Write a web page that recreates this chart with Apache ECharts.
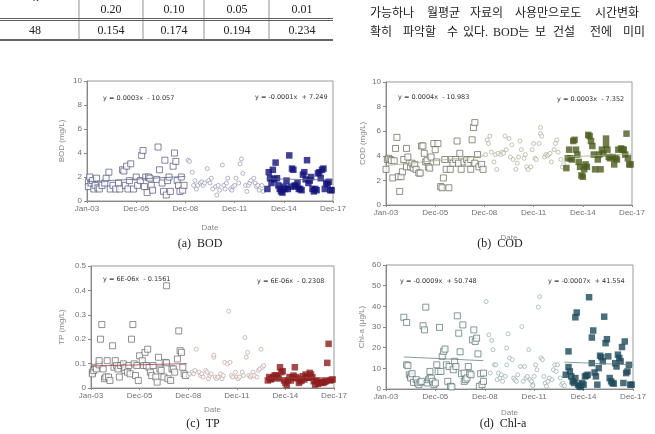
<!DOCTYPE html>
<html>
<head>
<meta charset="utf-8">
<script src="https://cdn.jsdelivr.net/npm/echarts@6/dist/echarts.min.js"></script>
<style>
html, body { margin: 0; padding: 0; background: #fff; }
#main { width: 655px; height: 434px; }
</style>
</head>
<body>
<div id="main"></div>
<script>
// x = months since Jan-03
const dateLabels = ['Jan-03', 'Dec-05', 'Dec-08', 'Dec-11', 'Dec-14', 'Dec-17'];

// table fragment
const tableHead = ['0.20', '0.10', '0.05', '0.01'];
const tableRow = ['48', '0.154', '0.174', '0.194', '0.234'];

// BOD (mg/L)
const bodPre = [[1,1.6],[1,1.2],[2,2.0],[3,1.5],[4,1.7],[5,1.0],[6,1.3],[7,1.9],[8,1.1],[9,1.0],[11,1.3],[13,1.5],[14,1.9],[16,2.4],[17,1.0],[19,1.3],[21,1.0],[23,1.5],[24,1.0],[26,2.6],[27,2.5],[28,1.3],[29,2.9],[30,1.0],[31,1.7],[32,3.1],[34,1.0],[36,2.0],[37,1.3],[39,1.7],[40,3.8],[41,4.2],[42,1.2],[43,2.0],[44,0.7],[45,2.0],[46,1.9],[47,1.3],[48,0.9],[51,1.8],[52,4.5],[53,2.6],[55,1.5],[56,0.8],[57,3.4],[58,0.5],[59,1.7],[60,2.0],[61,0.8],[63,2.9],[64,4.0],[65,3.3],[66,1.7],[67,1.3],[68,0.8],[69,2.0],[70,0.9],[71,1.3]];
const bodMid = [[74,3.4],[75,3.3],[77,2.4],[78,1.3],[79,1.7],[80,1.0],[81,1.3],[83,1.5],[84,1.6],[85,1.3],[86,1.5],[88,2.7],[89,1.7],[90,1.5],[91,1.9],[92,1.0],[94,1.2],[95,0.5],[96,1.3],[97,0.9],[99,3.0],[100,1.3],[101,1.0],[102,1.5],[103,1.9],[105,1.0],[106,0.9],[107,1.2],[108,1.3],[109,1.9],[111,1.5],[112,3.1],[113,3.5],[114,2.3],[116,1.3],[117,0.8],[118,1.3],[119,1.5],[120,1.7],[122,1.9],[123,1.5],[124,1.2],[125,1.3],[126,0.9],[128,1.3],[129,0.8]];
const bodPost = [[132,1.0],[133,2.4],[134,1.9],[135,1.5],[136,2.6],[137,1.8],[138,3.2],[139,1.9],[140,1.3],[141,1.0],[142,0.8],[143,0.7],[144,1.2],[145,1.0],[146,1.7],[147,1.0],[148,3.8],[149,1.2],[150,2.7],[151,2.6],[152,1.3],[153,1.2],[154,1.5],[155,1.0],[156,1.0],[157,0.9],[158,2.2],[159,2.4],[160,1.8],[161,3.4],[162,1.5],[163,1.7],[164,2.0],[165,1.0],[166,0.8],[167,1.0],[168,0.9],[169,2.3],[170,2.4],[171,1.9],[172,2.6],[173,2.7],[174,1.0],[175,1.5],[176,1.4],[177,1.6],[178,0.9],[179,0.9]];
const bodTrendPre = [[0,1.6],[72,2.05]];
const bodTrendPost = [[131,1.85],[180,1.75]];

// COD (mg/L)
const codPre = [[0,2.9],[1,3.7],[2,3.8],[3,3.7],[4,3.6],[5,2.2],[6,3.6],[7,4.6],[8,5.5],[9,2.3],[10,1.1],[11,2.3],[12,2.7],[13,3.7],[15,4.6],[15,3.1],[16,3.9],[18,3.1],[19,3.4],[20,3.0],[21,3.3],[22,2.9],[24,2.6],[25,2.6],[26,4.8],[27,4.8],[28,4.2],[29,3.5],[30,3.6],[31,3.1],[32,3.0],[33,3.9],[35,5.0],[36,4.5],[37,3.5],[38,5.0],[40,1.5],[41,1.4],[42,2.2],[43,3.7],[44,2.9],[46,1.4],[47,2.9],[48,3.7],[49,3.4],[51,3.7],[52,5.2],[53,3.4],[54,4.2],[55,2.9],[57,3.5],[59,3.7],[60,3.4],[62,2.9],[62,3.7],[63,5.3],[64,6.3],[65,6.7],[65,3.4],[67,4.1],[68,3.1],[70,3.3],[71,2.9]];
const codMid = [[73,4.1],[74,5.3],[75,5.0],[76,5.6],[77,4.3],[79,3.5],[80,4.1],[81,2.9],[82,4.2],[84,4.1],[85,4.3],[86,4.2],[87,5.6],[88,4.5],[90,5.4],[91,3.9],[92,4.9],[93,3.7],[95,2.9],[96,3.4],[97,3.9],[98,5.2],[99,4.5],[101,3.8],[102,4.1],[103,3.1],[104,2.9],[106,3.1],[107,4.5],[108,5.0],[109,3.8],[110,3.7],[112,5.0],[113,6.3],[113,5.8],[114,5.6],[116,3.9],[117,4.1],[118,4.0],[119,4.1],[120,4.2],[121,3.5],[123,4.5],[124,5.0],[125,5.3],[126,4.3],[128,3.7],[129,3.1],[130,3.3]];
const codPost = [[132,3.0],[133,3.8],[134,4.5],[135,3.8],[136,3.7],[137,5.2],[138,5.3],[139,4.5],[140,4.1],[141,3.5],[142,3.1],[143,2.4],[144,2.3],[145,2.9],[146,3.3],[147,3.1],[148,5.7],[149,5.6],[150,5.2],[151,4.8],[152,4.1],[153,2.9],[155,3.7],[156,4.1],[157,2.9],[158,4.5],[159,4.2],[161,5.4],[161,4.9],[162,4.5],[163,3.9],[164,3.8],[166,3.9],[167,3.3],[168,3.8],[169,3.7],[170,4.5],[172,4.6],[173,4.5],[174,4.5],[175,4.1],[176,5.8],[177,3.8],[178,3.3],[179,3.3]];
const codTrendPre = [[0,3.2],[72,4.0]];
const codTrendPost = [[131,3.9],[180,4.15]];

// TP (mg/L)
const tpPre = [[1,0.065],[1,0.058],[2,0.072],[3,0.085],[4,0.078],[6,0.095],[6,0.112],[7,0.2],[8,0.26],[9,0.078],[10,0.038],[11,0.045],[12,0.112],[13,0.045],[14,0.031],[16,0.173],[17,0.085],[18,0.112],[19,0.092],[20,0.078],[21,0.045],[22,0.092],[24,0.099],[25,0.072],[25,0.085],[27,0.065],[28,0.092],[29,0.058],[30,0.2],[31,0.26],[32,0.099],[33,0.051],[34,0.092],[35,0.031],[36,0.132],[38,0.112],[39,0.092],[40,0.146],[41,0.092],[42,0.159],[43,0.085],[44,0.065],[45,0.051],[46,0.092],[48,0.045],[49,0.024],[50,0.126],[51,0.078],[52,0.072],[54,0.045],[55,0.105],[56,0.419],[56,0.103],[57,0.038],[59,0.031],[60,0.078],[61,0.078],[62,0.065],[64,0.119],[65,0.234],[66,0.153],[67,0.146],[68,0.085],[69,0.058],[70,0.051]];
const tpMid = [[72,0.051],[73,0.058],[75,0.065],[76,0.058],[77,0.072],[78,0.159],[80,0.065],[81,0.051],[82,0.058],[83,0.045],[85,0.072],[86,0.065],[87,0.038],[88,0.051],[89,0.058],[91,0.126],[91,0.135],[92,0.045],[93,0.038],[94,0.045],[96,0.058],[97,0.038],[98,0.051],[99,0.105],[101,0.099],[102,0.315],[103,0.105],[104,0.051],[105,0.045],[107,0.065],[108,0.045],[109,0.038],[110,0.045],[112,0.065],[113,0.051],[114,0.207],[115,0.126],[116,0.146],[117,0.051],[118,0.045],[119,0.051],[120,0.065],[121,0.051],[123,0.045],[124,0.072],[125,0.078],[126,0.159],[127,0.085],[128,0.092]];
const tpPost = [[131,0.031],[132,0.045],[133,0.035],[134,0.038],[135,0.044],[136,0.051],[137,0.052],[138,0.045],[139,0.039],[140,0.085],[141,0.065],[142,0.069],[143,0.031],[144,0.021],[145,0.012],[146,0.031],[147,0.045],[148,0.031],[149,0.042],[150,0.051],[151,0.085],[152,0.045],[153,0.039],[154,0.021],[155,0.028],[156,0.031],[157,0.048],[158,0.035],[159,0.055],[160,0.042],[161,0.042],[162,0.062],[163,0.055],[164,0.044],[165,0.028],[166,0.014],[167,0.03],[168,0.017],[169,0.025],[170,0.021],[171,0.025],[172,0.021],[173,0.025],[174,0.028],[175,0.103],[176,0.181],[177,0.031],[178,0.033],[179,0.035]];
const tpTrendPre = [[0,0.09],[71,0.1]];
const tpTrendPost = [[130,0.04],[180,0.043]];

// Chl-a (ug/L)
const chlPre = [[13,34.7],[15,32.2],[15,11.7],[16,11.3],[17,6.9],[18,6.1],[18,5.3],[19,7.4],[20,3.2],[22,4.5],[23,2.9],[24,2.1],[25,3.2],[26,3.7],[27,30.6],[28,28.6],[29,39.6],[30,2.9],[31,4.5],[32,8.5],[32,5.3],[33,5.3],[34,3.7],[35,2.1],[36,2.9],[37,11.7],[38,8.5],[39,29.8],[40,8.5],[41,15.8],[42,18.2],[43,19.3],[44,11.7],[45,3.7],[46,10.9],[47,1.3],[48,1.0],[49,9.3],[50,13.4],[51,10.9],[52,35.4],[53,27],[54,18],[55,7.4],[56,31],[57,7.7],[57,3.7],[58,4.5],[59,5.3],[60,10.9],[61,7.4],[62,6.9],[63,23.8],[64,28.6],[65,23],[66,24.6],[67,17],[68,1.3],[69,7.4],[70,2.1],[71,7.7],[71,3.7]];
const chlMid = [[73,42.3],[75,26.2],[76,7.7],[77,23.5],[78,19],[79,11.7],[80,11.7],[81,4.5],[82,7.7],[83,5.3],[84,6.9],[85,3.7],[87,6.1],[88,11.7],[88,19.8],[89,26.7],[90,15],[92,14.2],[93,5.3],[94,4.5],[95,3.7],[96,6.9],[98,10.9],[99,30.2],[100,3.7],[101,10.9],[102,5.3],[103,6.1],[104,19],[105,4.5],[106,3.7],[107,2.1],[107,1.6],[108,6.1],[109,11.7],[110,9.3],[111,39.6],[112,44.7],[113,15],[114,14.2],[115,6.1],[116,2.9],[117,1.3],[118,3.7],[119,5.3],[121,4.5],[122,9.3],[123,11.7],[124,8.5],[125,11.7],[127,5.3],[128,2.1],[129,2.9],[130,1.6]];
const chlPost = [[131,6.9],[133,10.6],[133,18.2],[134,8.5],[135,6.1],[136,3.7],[137,2.9],[138,5.3],[138,34.7],[139,37],[140,2.1],[141,1.3],[142,1.0],[143,2.9],[144,2.1],[145,6.1],[146,6.4],[147,6.9],[148,44.4],[150,12.5],[150,24.9],[151,28.3],[152,8],[153,6.1],[154,2.1],[155,10.1],[156,16.1],[157,15.4],[158,13.4],[159,35],[160,22.2],[161,24.1],[162,15.8],[163,5.3],[164,3.7],[165,2.9],[166,2.6],[167,12.5],[168,10.9],[169,16.6],[170,15],[171,13.4],[172,20.3],[173,2.9],[174,23],[175,7.7],[176,8.5],[177,11.7],[178,2.1],[179,2.1]];
const chlTrendPre = [[13,15.5],[71,13.7]];
const chlTrendPost = [[130,13],[180,11.7]];

const plots = [
  { grid: { left: 87, top: 81, width: 246, height: 120 }, yMax: 10, yStep: 2, yName: 'BOD (mg/L)', yGap: 21, xGap: 23,
    pre: bodPre, mid: bodMid, post: bodPost, tPre: bodTrendPre, tPost: bodTrendPost,
    cOpen: '#55557a', cMid: '#8c8cac', cFill: '#12127a', cLine: '#5a6a8a' },
  { grid: { left: 386, top: 82, width: 246, height: 123 }, yMax: 10, yStep: 2, yName: 'COD (mg/L)', yGap: 19, xGap: 29,
    pre: codPre, mid: codMid, post: codPost, tPre: codTrendPre, tPost: codTrendPost,
    cOpen: '#66665a', cMid: '#a0a48c', cFill: '#4c5c1e', cLine: '#a4ae86' },
  { grid: { left: 91, top: 266, width: 243, height: 122 }, yMax: 0.5, yStep: 0.1, yName: 'TP (mg/L)', yGap: 25, xGap: 18,
    pre: tpPre, mid: tpMid, post: tpPost, tPre: tpTrendPre, tPost: tpTrendPost,
    cOpen: '#666666', cMid: '#b89a9a', cFill: '#8c1e1e', cLine: '#a04444' },
  { grid: { left: 386, top: 265, width: 247, height: 124 }, yMax: 60, yStep: 10, yName: 'Chl-a (μg/L)', yGap: 20, xGap: 20,
    pre: chlPre, mid: chlMid, post: chlPost, tPre: chlTrendPre, tPost: chlTrendPost,
    cOpen: '#566e6e', cMid: '#8aa2a2', cFill: '#1e4a5a', cLine: '#6a8282' }
];

const equations = [
  ['y = 0.0003x  - 10.057', 103, 98], ['y = -0.0001x  + 7.249', 255, 97],
  ['y = 0.0004x  - 10.983', 398, 97], ['y = 0.0003x  - 7.352', 557, 99],
  ['y = 6E-06x  - 0.1561', 103, 279], ['y = 6E-06x  - 0.2308', 257, 281],
  ['y = -0.0009x  + 50.748', 400, 281], ['y = -0.0007x  + 41.554', 548, 281]
];
const captions = [['(a)  BOD', 200, 244], ['(b)  COD', 500, 244], ['(c)  TP', 203, 424], ['(d)  Chl-a', 503, 424]];

// Korean paragraph words [text, left x]
const koLine1 = [['가능하나', 370], ['월평균', 427], ['자료의', 470], ['사용만으로도', 515], ['시간변화', 595]];
const koLine2 = [['확히', 370], ['파악할', 403], ['수', 447], ['있다.', 463], ['BOD는', 493], ['보', 535], ['건설', 553], ['전에', 590], ['미미', 623]];

const axisFont = { fontFamily: 'Liberation Sans', fontSize: 8, color: '#707070' };
const grids = [], xAxes = [], yAxes = [], series = [];

plots.forEach((p, i) => {
  grids.push(Object.assign({ show: true, borderColor: '#999', borderWidth: 1 }, p.grid));
  xAxes.push({
    type: 'value', gridIndex: i, min: 0, max: 180, interval: 36,
    name: 'Date', nameLocation: 'middle', nameGap: p.xGap,
    nameTextStyle: { fontFamily: 'Liberation Sans', fontSize: 8, color: '#888' },
    axisLine: { lineStyle: { color: '#888' } },
    axisTick: { show: true, length: 2, lineStyle: { color: '#888' } },
    axisLabel: Object.assign({ margin: 4, formatter: v => dateLabels[Math.round(v / 36)] }, axisFont),
    splitLine: { show: false }
  });
  yAxes.push({
    type: 'value', gridIndex: i, min: 0, max: p.yMax, interval: p.yStep,
    name: p.yName, nameLocation: 'middle', nameGap: p.yGap, nameRotate: 90,
    nameTextStyle: { fontFamily: 'Liberation Sans', fontSize: 8, color: '#888' },
    axisLine: { show: true, lineStyle: { color: '#888' } },
    axisTick: { show: true, length: 3, lineStyle: { color: '#888' } },
    axisLabel: Object.assign({ margin: 5 }, axisFont),
    splitLine: { show: false }
  });
  series.push(
    { type: 'scatter', xAxisIndex: i, yAxisIndex: i, data: p.pre, symbol: 'rect', symbolSize: 6,
      itemStyle: { color: '#fff', borderColor: p.cOpen, borderWidth: 0.9 } },
    { type: 'scatter', xAxisIndex: i, yAxisIndex: i, data: p.mid, symbol: 'circle', symbolSize: 4,
      itemStyle: { color: '#fff', borderColor: p.cMid, borderWidth: 0.8 } },
    { type: 'scatter', xAxisIndex: i, yAxisIndex: i, data: p.post, symbol: 'rect', symbolSize: 6.5,
      itemStyle: { color: p.cFill } },
    { type: 'line', xAxisIndex: i, yAxisIndex: i, data: p.tPre, symbol: 'none',
      lineStyle: { color: p.cLine, width: 0.8 }, z: 3 },
    { type: 'line', xAxisIndex: i, yAxisIndex: i, data: p.tPost, symbol: 'none',
      lineStyle: { color: p.cLine, width: 0.8 }, z: 3 }
  );
});

const graphic = [];
// table lines
const hLine = (y, w) => ({ type: 'line', shape: { x1: 0, y1: y, x2: 333, y2: y }, style: { stroke: '#333', lineWidth: w } });
graphic.push(hLine(18.5, 0.8), hLine(20.5, 0.8), hLine(40, 1.5));
[79, 143, 204, 269].forEach(x => graphic.push({
  type: 'line', shape: { x1: x, y1: 0, x2: x, y2: 40 }, style: { stroke: '#777', lineWidth: 0.8 }
}));
const serif = '"Liberation Serif", "Noto Sans CJK KR", serif';
graphic.push({ type: 'text', x: 36, y: -2, style: { text: 'n', font: 'italic 12px ' + serif, fill: '#222', textAlign: 'center', textVerticalAlign: 'middle' } });
const headX = [111, 174, 237, 302];
tableHead.forEach((t, k) => graphic.push({ type: 'text', x: headX[k], y: 9.5, style: { text: t, font: '12px ' + serif, fill: '#222', textAlign: 'center', textVerticalAlign: 'middle' } }));
const rowX = [35, 111, 174, 237, 302];
tableRow.forEach((t, k) => graphic.push({ type: 'text', x: rowX[k], y: 31, style: { text: t, font: '12px ' + serif, fill: '#222', textAlign: 'center', textVerticalAlign: 'middle' } }));
// paragraph
koLine1.forEach(w => graphic.push({ type: 'text', x: w[1], y: 14, style: { text: w[0], font: '12px ' + serif, fill: '#222', textAlign: 'left', textVerticalAlign: 'middle' } }));
koLine2.forEach(w => graphic.push({ type: 'text', x: w[1], y: 33, style: { text: w[0], font: '12px ' + serif, fill: '#222', textAlign: 'left', textVerticalAlign: 'middle' } }));
// equations
equations.forEach(e => graphic.push({ type: 'text', x: e[1], y: e[2], z: 10, style: { text: e[0], font: '6.5px "DejaVu Sans"', fill: '#333', textAlign: 'left', textVerticalAlign: 'middle' } }));
// captions
captions.forEach(c => graphic.push({ type: 'text', x: c[1], y: c[2], style: { text: c[0], font: '12px ' + serif, fill: '#222', textAlign: 'center', textVerticalAlign: 'middle' } }));

const chart = echarts.init(document.getElementById('main'), null, { renderer: 'canvas' });
chart.setOption({
  animation: false,
  backgroundColor: '#fff',
  grid: grids,
  xAxis: xAxes,
  yAxis: yAxes,
  series: series,
  graphic: graphic
});
</script>
</body>
</html>
